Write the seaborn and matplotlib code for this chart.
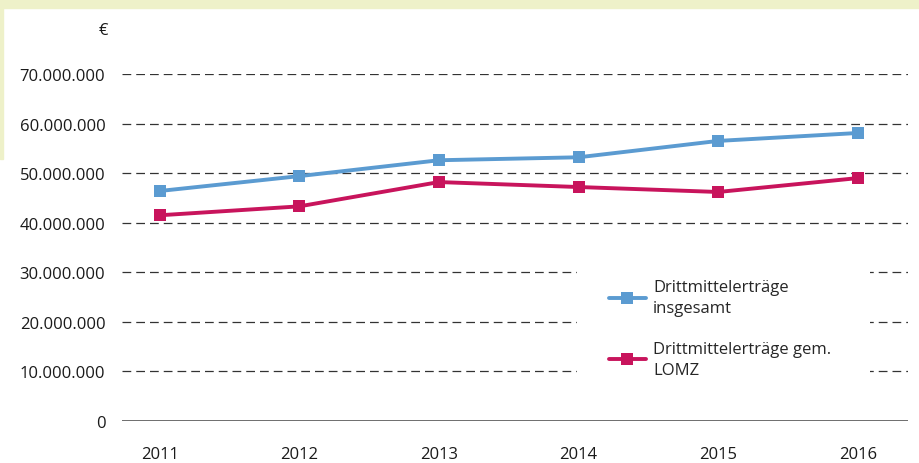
import numpy as np
import pandas as pd
import matplotlib.pyplot as plt
import seaborn as sns
from matplotlib.ticker import FuncFormatter

# --- data ---
years = ['2011', '2012', '2013', '2014', '2015', '2016']
total = [46.4e6, 49.4e6, 52.6e6, 53.2e6, 56.5e6, 58.1e6]
lomz = [41.5e6, 43.3e6, 48.2e6, 47.2e6, 46.2e6, 49.0e6]
series_names = ['Drittmittelerträge\ninsgesamt', 'Drittmittelerträge gem.\nLOMZ']
y_ticks = [0, 10e6, 20e6, 30e6, 40e6, 50e6, 60e6, 70e6]

df = pd.DataFrame({
    'Jahr': years * 2,
    'Wert': total + lomz,
    'Reihe': [series_names[0]] * len(years) + [series_names[1]] * len(years),
})

sns.set_style('white')
plt.rcParams['font.family'] = ['Open Sans', 'DejaVu Sans']

fig = plt.figure(figsize=(9.2, 4.64), dpi=100)
fig.patch.set_facecolor('white')

# pale page background showing at top and left edge
fig.patches.append(plt.Rectangle((0, 1 - 9 / 464), 1, 9 / 464, transform=fig.transFigure,
                                 color='#eef1c9', zorder=0))
fig.patches.append(plt.Rectangle((0, 1 - 160 / 464), 3 / 920, 160 / 464, transform=fig.transFigure,
                                 color='#eef1c9', zorder=0))

ax = fig.add_axes([122 / 920, 1 - 422 / 464, (908 - 122) / 920, (422 - 75) / 464])
ax.set_facecolor('none')

palette = {series_names[0]: '#5b9bd1', series_names[1]: '#c8145c'}
sns.lineplot(data=df, x='Jahr', y='Wert', hue='Reihe', palette=palette, marker='s',
             markersize=8, markeredgewidth=0, linewidth=2.8, ax=ax, zorder=4)

ax.set_ylim(0, 70e6)
ax.set_xlim(-0.27, 5.36)
ax.set_yticks(y_ticks)
ax.yaxis.set_major_formatter(FuncFormatter(lambda v, p: f'{int(v):,}'.replace(',', '.')))
ax.set_xlabel('')
ax.set_ylabel('')
for s in ax.spines.values():
    s.set_visible(False)
ax.tick_params(axis='both', length=0, labelsize=12, colors='#1a1a1a')
ax.tick_params(axis='y', pad=12)
ax.tick_params(axis='x', pad=18)

for v in y_ticks[1:]:
    ax.axhline(v, color='#333333', lw=0.9, ls=(0, (7, 4)), zorder=1)
ax.axhline(0, color='#555555', lw=1.2, zorder=1)

ax.text(103 / 920, 1 - 31 / 464, '€', transform=fig.transFigure, fontsize=12,
        ha='center', va='center', color='#1a1a1a')

# white box behind the legend that interrupts the grid lines
ax.add_patch(plt.Rectangle((577 / 920, 1 - 392 / 464), (870 - 577) / 920, 130 / 464,
                           transform=fig.transFigure, facecolor='white', edgecolor='none',
                           zorder=2, clip_on=False))

leg = ax.legend(loc='upper left', bbox_to_anchor=(609 / 920, 1 - 280 / 464),
                bbox_transform=fig.transFigure, frameon=False, fontsize=12,
                handlelength=2.2, handletextpad=0.45, labelspacing=1.45,
                borderpad=0, borderaxespad=0)
for t in leg.get_texts():
    t.set_linespacing(1.45)
leg.set_zorder(5)

fig.savefig('out.png', dpi=100)
